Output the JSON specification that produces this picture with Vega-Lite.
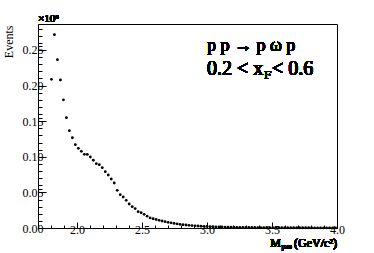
{
  "$schema": "https://vega.github.io/schema/vega-lite/v6.json",
  "width": 299,
  "height": 204,
  "autosize": "none",
  "padding": {"left": 38, "top": 24, "right": 37, "bottom": 25},
  "background": "white",
  "config": {
    "view": {"stroke": "black", "strokeWidth": 1},
    "axis": {"labelFont": "Liberation Serif", "titleFont": "Liberation Serif", "domainColor": "black", "tickColor": "black", "labelColor": "black", "titleColor": "black", "grid": false, "titleFontWeight": "normal", "labelFontWeight": "normal"},
    "text": {"font": "Liberation Serif", "color": "black", "fontWeight": "normal"}
  },
  "data": {"values": [
    {"m": 1.8035, "n": 0.2088}, {"m": 1.8265, "n": 0.2715}, {"m": 1.8495, "n": 0.2364}, {"m": 1.8725, "n": 0.2079},
    {"m": 1.8955, "n": 0.1800}, {"m": 1.9185, "n": 0.1550}, {"m": 1.9415, "n": 0.1367}, {"m": 1.9645, "n": 0.1268},
    {"m": 1.9875, "n": 0.1170}, {"m": 2.0105, "n": 0.1119}, {"m": 2.0335, "n": 0.1077}, {"m": 2.0565, "n": 0.1035},
    {"m": 2.0795, "n": 0.1033}, {"m": 2.1025, "n": 0.0997}, {"m": 2.1255, "n": 0.0951}, {"m": 2.1485, "n": 0.0903},
    {"m": 2.1715, "n": 0.0889}, {"m": 2.1945, "n": 0.0847}, {"m": 2.2175, "n": 0.0791}, {"m": 2.2405, "n": 0.0744},
    {"m": 2.2635, "n": 0.0688}, {"m": 2.2865, "n": 0.0632}, {"m": 2.3095, "n": 0.0529}, {"m": 2.3325, "n": 0.0468},
    {"m": 2.3555, "n": 0.0435}, {"m": 2.3785, "n": 0.0389}, {"m": 2.4015, "n": 0.0337}, {"m": 2.4245, "n": 0.0299},
    {"m": 2.4475, "n": 0.0273}, {"m": 2.4705, "n": 0.0229}, {"m": 2.4935, "n": 0.0215}, {"m": 2.5165, "n": 0.0192},
    {"m": 2.5395, "n": 0.0166}, {"m": 2.5625, "n": 0.0142}, {"m": 2.5855, "n": 0.0130}, {"m": 2.6085, "n": 0.0119},
    {"m": 2.6315, "n": 0.0108}, {"m": 2.6545, "n": 0.0098}, {"m": 2.6775, "n": 0.0089}, {"m": 2.7005, "n": 0.0080},
    {"m": 2.7235, "n": 0.0072}, {"m": 2.7465, "n": 0.0064}, {"m": 2.7695, "n": 0.0058}, {"m": 2.7925, "n": 0.0052},
    {"m": 2.8155, "n": 0.0046}, {"m": 2.8385, "n": 0.0042}, {"m": 2.8615, "n": 0.0038}, {"m": 2.8845, "n": 0.0034},
    {"m": 2.9075, "n": 0.0031}, {"m": 2.9305, "n": 0.0028}, {"m": 2.9535, "n": 0.0026}, {"m": 2.9765, "n": 0.0024},
    {"m": 2.9995, "n": 0.0022}, {"m": 3.0225, "n": 0.0020}, {"m": 3.0455, "n": 0.0018}, {"m": 3.0685, "n": 0.0016},
    {"m": 3.0915, "n": 0.0015}, {"m": 3.1145, "n": 0.0014}, {"m": 3.1375, "n": 0.0013}, {"m": 3.1605, "n": 0.0012},
    {"m": 3.1835, "n": 0.0011}, {"m": 3.2065, "n": 0.0010}, {"m": 3.2295, "n": 0.0009}, {"m": 3.2525, "n": 0.0009},
    {"m": 3.2755, "n": 0.0008}, {"m": 3.2985, "n": 0.0008}, {"m": 3.3215, "n": 0.0007}, {"m": 3.3445, "n": 0.0007},
    {"m": 3.3675, "n": 0.0007}, {"m": 3.3905, "n": 0.0006}, {"m": 3.4135, "n": 0.0006}, {"m": 3.4365, "n": 0.0006},
    {"m": 3.4595, "n": 0.0005}, {"m": 3.4825, "n": 0.0005}, {"m": 3.5055, "n": 0.0005}, {"m": 3.5285, "n": 0.0005},
    {"m": 3.5515, "n": 0.0004}, {"m": 3.5745, "n": 0.0004}, {"m": 3.5975, "n": 0.0004}, {"m": 3.6205, "n": 0.0004},
    {"m": 3.6435, "n": 0.0004}, {"m": 3.6665, "n": 0.0003}, {"m": 3.6895, "n": 0.0003}, {"m": 3.7125, "n": 0.0003},
    {"m": 3.7355, "n": 0.0003}, {"m": 3.7585, "n": 0.0003}, {"m": 3.7815, "n": 0.0003}, {"m": 3.8045, "n": 0.0003},
    {"m": 3.8275, "n": 0.0002}, {"m": 3.8505, "n": 0.0002}, {"m": 3.8735, "n": 0.0002}, {"m": 3.8965, "n": 0.0002},
    {"m": 3.9195, "n": 0.0002}, {"m": 3.9425, "n": 0.0002}, {"m": 3.9655, "n": 0.0002}, {"m": 3.9885, "n": 0.0002}
  ]},
  "resolve": {"scale": {"x": "shared", "y": "shared"}, "axis": {"x": "independent", "y": "independent"}},
  "layer": [
    {
      "mark": {"type": "circle", "size": 8, "color": "black", "opacity": 1},
      "encoding": {
        "x": {"field": "m", "type": "quantitative", "scale": {"domain": [1.7, 4.0], "nice": false, "zero": false},
          "axis": {"orient": "bottom", "values": [2.0, 2.5, 3.0, 3.5, 4.0], "format": ".1f", "tickSize": -6, "labelFontSize": 12, "labelPadding": 2, "labelFlush": false, "labelOverlap": false, "title": null}},
        "y": {"field": "n", "type": "quantitative", "scale": {"domain": [0, 0.2865], "nice": false},
          "axis": {"orient": "left", "values": [0, 0.05, 0.1, 0.15, 0.2, 0.25], "format": ".2f", "tickSize": -8, "labelFontSize": 12, "labelPadding": 3, "labelFlush": false, "labelOverlap": false,
            "title": "Events", "titleFontSize": 12, "titleAnchor": "end", "titleAlign": "right", "titleBaseline": "top", "titleAngle": -90, "titleX": -35, "titleY": 1}}
      }
    },
    {
      "mark": {"type": "circle", "size": 0, "opacity": 0},
      "encoding": {
        "x": {"field": "m", "type": "quantitative",
          "axis": {"orient": "bottom", "values": [1.8, 1.9, 2.1, 2.2, 2.3, 2.4, 2.6, 2.7, 2.8, 2.9, 3.1, 3.2, 3.3, 3.4, 3.6, 3.7, 3.8, 3.9], "tickSize": -3, "labels": false, "domain": false, "title": null}},
        "y": {"field": "n", "type": "quantitative",
          "axis": {"orient": "left", "values": [0.01, 0.02, 0.03, 0.04, 0.06, 0.07, 0.08, 0.09, 0.11, 0.12, 0.13, 0.14, 0.16, 0.17, 0.18, 0.19, 0.21, 0.22, 0.23, 0.24, 0.26, 0.27, 0.28], "tickSize": -4, "labels": false, "domain": false, "title": null}}
      }
    },
    {
      "mark": {"type": "text", "text": "p p → p ω p", "fontSize": 18, "align": "left", "baseline": "alphabetic"},
      "encoding": {"x": {"datum": 3.0, "type": "quantitative", "axis": null}, "y": {"datum": 0.2486, "type": "quantitative", "axis": null}}
    },
    {
      "mark": {"type": "text", "text": "0.2 < x", "fontSize": 20, "align": "left", "baseline": "alphabetic"},
      "encoding": {"x": {"datum": 3.0, "type": "quantitative", "axis": null}, "y": {"datum": 0.2149, "type": "quantitative", "axis": null}}
    },
    {
      "mark": {"type": "text", "text": "F", "fontSize": 13, "align": "left", "baseline": "alphabetic", "dx": 57, "dy": 4},
      "encoding": {"x": {"datum": 3.0, "type": "quantitative", "axis": null}, "y": {"datum": 0.2149, "type": "quantitative", "axis": null}}
    },
    {
      "mark": {"type": "text", "text": " <  0.6", "fontSize": 20, "align": "left", "baseline": "alphabetic", "dx": 65},
      "encoding": {"x": {"datum": 3.0, "type": "quantitative", "axis": null}, "y": {"datum": 0.2149, "type": "quantitative", "axis": null}}
    },
    {
      "mark": {"type": "text", "text": "×10⁶", "fontSize": 11, "align": "left", "baseline": "alphabetic", "dy": -2},
      "encoding": {"x": {"datum": 1.7, "type": "quantitative", "axis": null}, "y": {"datum": 0.2865, "type": "quantitative", "axis": null}}
    },
    {
      "mark": {"type": "text", "text": "(GeV/c²)", "fontSize": 12, "align": "right", "baseline": "alphabetic", "dy": 19},
      "encoding": {"x": {"datum": 4.0, "type": "quantitative", "axis": null}, "y": {"datum": 0, "type": "quantitative", "axis": null}}
    },
    {
      "mark": {"type": "text", "text": "pω", "fontSize": 9, "align": "right", "baseline": "alphabetic", "dy": 21, "dx": -45},
      "encoding": {"x": {"datum": 4.0, "type": "quantitative", "axis": null}, "y": {"datum": 0, "type": "quantitative", "axis": null}}
    },
    {
      "mark": {"type": "text", "text": "M", "fontSize": 12, "align": "right", "baseline": "alphabetic", "dy": 19, "dx": -56},
      "encoding": {"x": {"datum": 4.0, "type": "quantitative", "axis": null}, "y": {"datum": 0, "type": "quantitative", "axis": null}}
    }
  ]
}
